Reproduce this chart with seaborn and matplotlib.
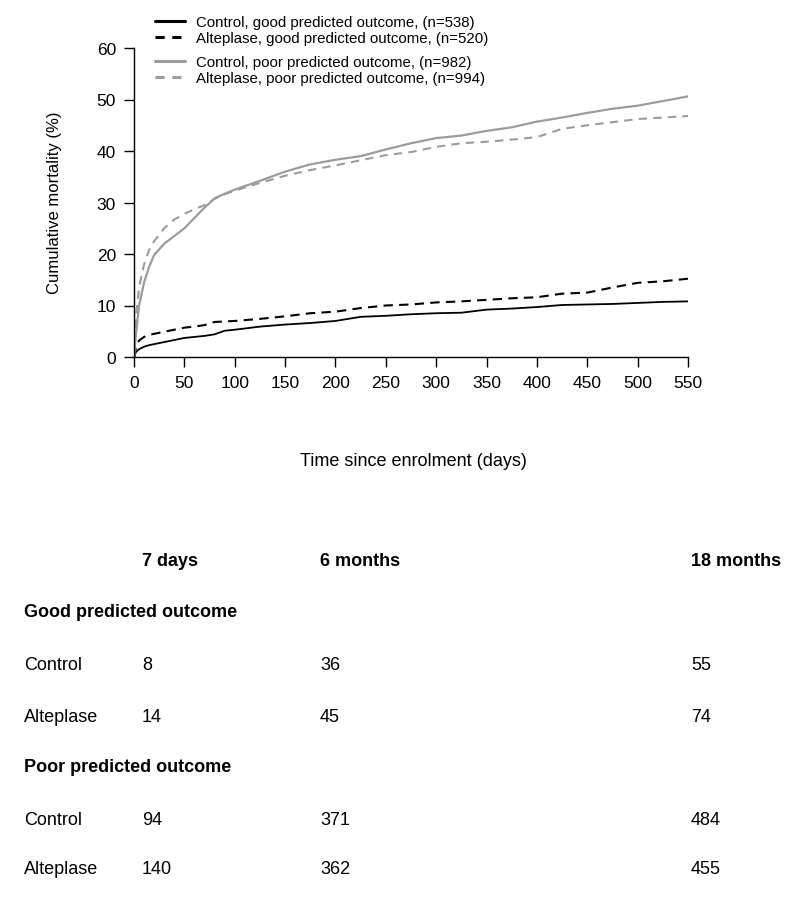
import numpy as np
import pandas as pd
import matplotlib
matplotlib.use("Agg")
import matplotlib.pyplot as plt
from matplotlib.lines import Line2D
import seaborn as sns

sns.set_theme(style="white")
plt.rcParams['font.family'] = ['Liberation Sans', 'DejaVu Sans']
plt.rcParams['text.color'] = 'black'
plt.rcParams['axes.labelcolor'] = 'black'

# ---- data ----
days = [0, 2, 5, 10, 15, 20, 30, 40, 50, 60, 70, 80, 90, 100, 125, 150, 175,
        200, 225, 250, 275, 300, 325, 350, 375, 400, 425, 450, 475, 500, 525, 550]

control_good = [0, 1.0, 1.5, 2.0, 2.3, 2.5, 2.9, 3.3, 3.7, 3.9, 4.1, 4.4, 5.1, 5.3, 5.9, 6.3, 6.6,
                7.0, 7.8, 8.0, 8.3, 8.5, 8.6, 9.2, 9.4, 9.7, 10.1, 10.2, 10.3, 10.5, 10.7, 10.8]
alteplase_good = [0, 2.0, 3.2, 3.9, 4.3, 4.5, 4.9, 5.3, 5.7, 5.9, 6.2, 6.8, 6.9, 7.0, 7.4, 7.9, 8.5,
                  8.8, 9.5, 10.0, 10.2, 10.6, 10.8, 11.1, 11.4, 11.6, 12.3, 12.5, 13.5, 14.4, 14.7, 15.2]
control_poor = [0, 4.5, 10.0, 14.5, 17.5, 19.8, 22.0, 23.5, 25.0, 27.0, 29.0, 30.8, 31.7, 32.5, 34.2, 36.0, 37.4,
                38.3, 39.0, 40.3, 41.5, 42.5, 43.0, 43.9, 44.6, 45.7, 46.5, 47.4, 48.2, 48.8, 49.7, 50.6]
alteplase_poor = [0, 8.0, 13.5, 18.0, 20.8, 22.5, 25.0, 26.7, 27.8, 28.7, 29.5, 30.7, 31.6, 32.3, 33.8, 35.2, 36.3,
                  37.2, 38.2, 39.2, 39.8, 40.8, 41.5, 41.8, 42.2, 42.7, 44.3, 45.0, 45.6, 46.2, 46.5, 46.8]

series_labels = ["Control, good predicted outcome, (n=538)",
                 "Alteplase, good predicted outcome, (n=520)",
                 "Control, poor predicted outcome, (n=982)",
                 "Alteplase, poor predicted outcome, (n=994)"]

x_ticks = [0, 50, 100, 150, 200, 250, 300, 350, 400, 450, 500, 550]
y_ticks = [0, 10, 20, 30, 40, 50, 60]

table_headers = ["7 days", "6 months", "18 months"]
table_groups = ["Good predicted outcome", "Poor predicted outcome"]
table_rows = ["Control", "Alteplase"]
good_control_n = [8, 36, 55]
good_alteplase_n = [14, 45, 74]
poor_control_n = [94, 371, 484]
poor_alteplase_n = [140, 362, 455]

# ---- figure ----
W, H = 800, 904
fig = plt.figure(figsize=(W / 100, H / 100), dpi=100)
ax = fig.add_axes([134 / W, 1 - 358 / H, (688 - 134) / W, (358 - 49) / H])

gray = "#9c9c9c"
styles = [
    (control_good, "black", "-", 1.3),
    (alteplase_good, "black", (0, (4.5, 3)), 1.5),
    (control_poor, gray, "-", 1.6),
    (alteplase_poor, gray, (0, (4, 3)), 1.5),
]
for (vals, col, ls, lw), lab in zip(styles, series_labels):
    df = pd.DataFrame({"day": days, "mort": vals})
    sns.lineplot(data=df, x="day", y="mort", ax=ax, color=col, linestyle=ls,
                 linewidth=lw, legend=False)

ax.set_xlim(0, 550)
ax.set_ylim(0, 60)
ax.set_xticks(x_ticks)
ax.set_yticks(y_ticks)
ax.set_xticklabels([str(t) for t in x_ticks])
ax.set_yticklabels([str(t) for t in y_ticks])
ax.tick_params(axis="both", direction="out", length=7, width=1, labelsize=12.5,
               bottom=True, left=True, colors="black", pad=6)
for s in ["top", "right"]:
    ax.spines[s].set_visible(False)
for s in ["left", "bottom"]:
    ax.spines[s].set_color("black")
    ax.spines[s].set_linewidth(1)
ax.set_xlabel("")
ax.set_ylabel("")
ax.grid(False)

fig.text(55 / W, 1 - 203 / H, "Cumulative mortality (%)", rotation=90,
         ha="center", va="center", fontsize=12, color="black")
fig.text(413 / W, 1 - 461 / H, "Time since enrolment (days)",
         ha="center", va="center", fontsize=13, color="black")

# legends
h1 = [Line2D([], [], color="black", lw=2.2, ls="-"),
      Line2D([], [], color="black", lw=2.2, ls=(0, (3, 2.5)))]
h2 = [Line2D([], [], color=gray, lw=2.2, ls="-"),
      Line2D([], [], color=gray, lw=2.2, ls=(0, (3, 2.5)))]
leg_kw = dict(loc="upper left", bbox_transform=fig.transFigure, frameon=False,
              fontsize=10.8, handlelength=2.0, handletextpad=0.75,
              labelspacing=0.12, borderpad=0, borderaxespad=0, labelcolor="black")
leg1 = ax.legend(h1, series_labels[:2], bbox_to_anchor=(155 / W, 1 - 16 / H), **leg_kw)
ax.add_artist(leg1)
leg2 = ax.legend(h2, series_labels[2:], bbox_to_anchor=(155 / W, 1 - 56 / H), **leg_kw)

# table
col_x = [142, 320, 691]
for x, h in zip(col_x, table_headers):
    fig.text(x / W, 1 - 562 / H, h, ha="left", va="center", fontsize=13,
             fontweight="bold", color="black")

row_y = {"g": 613, "gc": 666, "ga": 718, "p": 768, "pc": 821, "pa": 870}
fig.text(24 / W, 1 - row_y["g"] / H, table_groups[0], ha="left", va="center",
         fontsize=13, fontweight="bold", color="black")
fig.text(24 / W, 1 - row_y["p"] / H, table_groups[1], ha="left", va="center",
         fontsize=13, fontweight="bold", color="black")
for key, lab, vals in [("gc", table_rows[0], good_control_n), ("ga", table_rows[1], good_alteplase_n),
                       ("pc", table_rows[0], poor_control_n), ("pa", table_rows[1], poor_alteplase_n)]:
    y = 1 - row_y[key] / H
    fig.text(24 / W, y, lab, ha="left", va="center", fontsize=13, color="black")
    for x, v in zip(col_x, vals):
        fig.text(x / W, y, str(v), ha="left", va="center", fontsize=13, color="black")

fig.savefig("out.png", dpi=100, facecolor="white")
